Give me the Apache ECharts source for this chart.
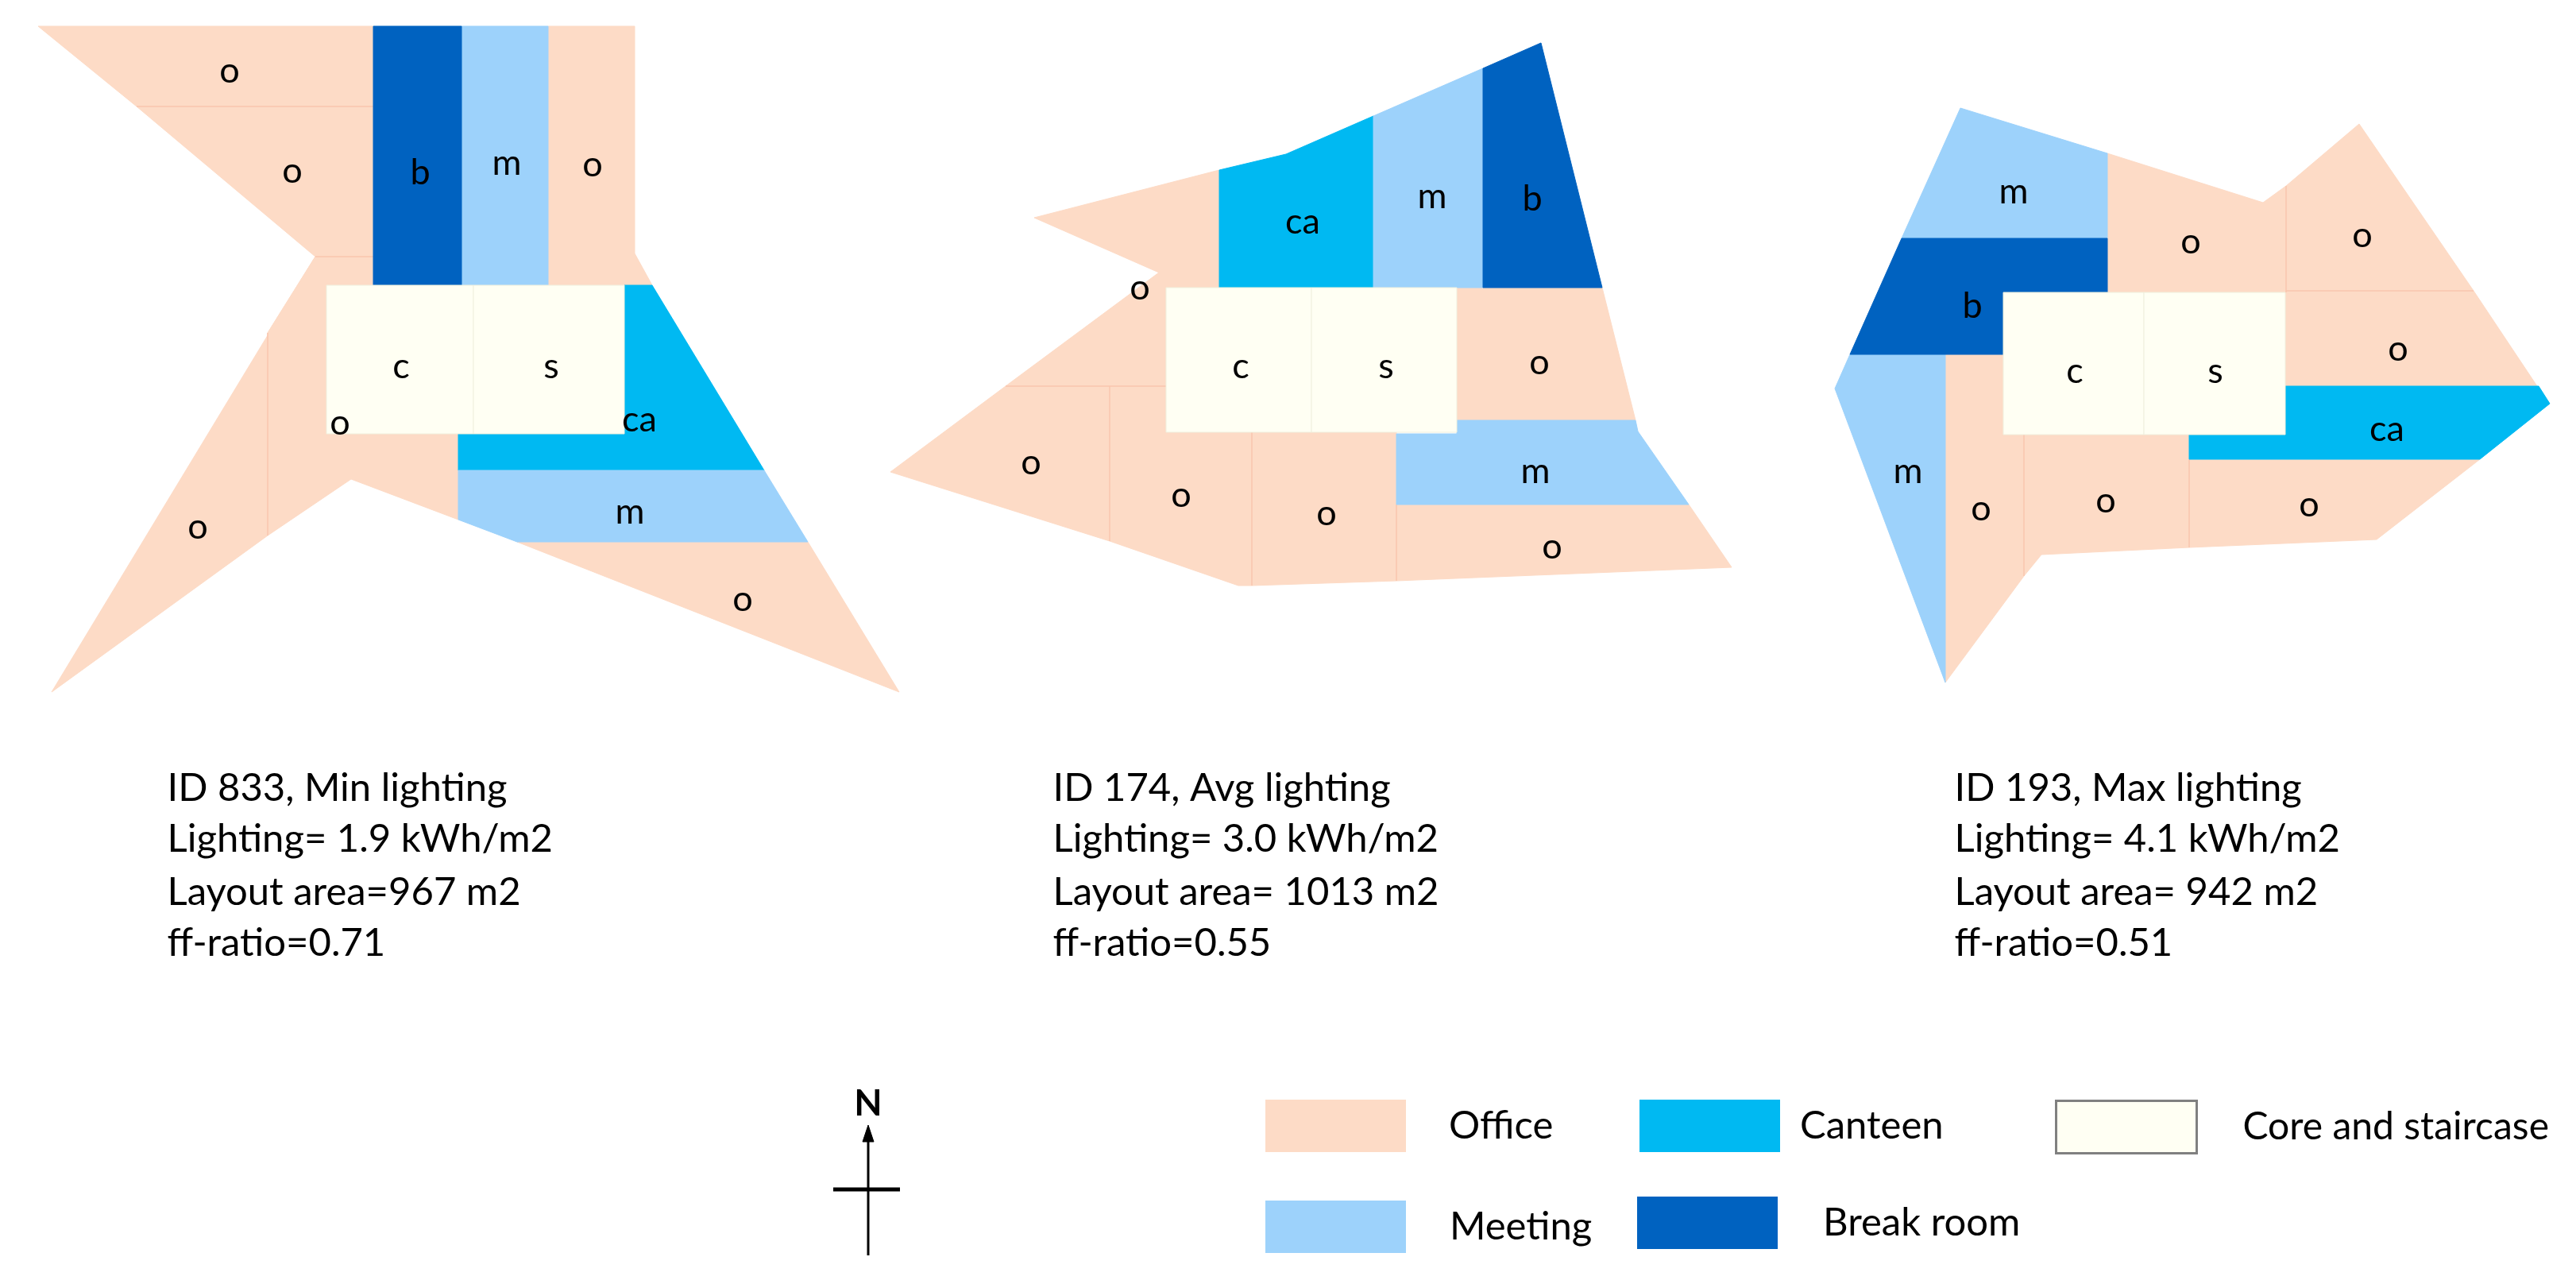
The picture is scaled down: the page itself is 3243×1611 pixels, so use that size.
<!DOCTYPE html>
<html><head><meta charset="utf-8">
<style>html,body{margin:0;padding:0;background:#fff}#c{width:3243px;height:1611px}</style>
<script src="https://cdn.jsdelivr.net/npm/echarts@6/dist/echarts.min.js"></script>
</head><body><div id="c"></div>
<script>
const officeRooms = [
  [[48,33],[470,33],[470,134],[172,134]],
  [[172,134],[470,134],[470,323],[397,323]],
  [[690,33],[799,33],[799,319],[821,359],[690,359]],
  [[397,323],[337,419],[337,674],[65,871]],
  [[397,323],[470,323],[470,359],[411,359],[411,546],[577,546],[577,654],[442,603],[337,674],[337,419]],
  [[651,682],[1017,682],[1132,871]],
  [[1302,274],[1535,214],[1535,362],[1468,362],[1468,486],[1266,486],[1459,343]],
  [[1834,362],[2017,362],[2059,529],[1834,529]],
  [[1758,635],[2126,635],[2180,714],[1758,731]],
  [[1576,544],[1758,544],[1758,731],[1576,737]],
  [[1397,486],[1468,486],[1468,544],[1576,544],[1576,737],[1559,737],[1397,681]],
  [[1266,486],[1397,486],[1397,681],[1121,594]],
  [[2449,446],[2522,446],[2522,546],[2548,546],[2548,725],[2449,859]],
  [[2548,546],[2756,546],[2756,689],[2570,698],[2548,725]],
  [[2756,578],[3122,578],[2992,679],[2756,689]],
  [[2877,366],[3114,366],[3194,486],[2877,486]],
  [[2653,193],[2849,255],[2878,234],[2878,368],[2653,368]],
  [[2878,234],[2970,156],[3114,366],[2878,366]]
];
const officeDividers = [
  [[172,134],[470,134]],[[397,323],[470,323]],[[337,419],[337,674]],
  [[1266,486],[1468,486]],[[1397,486],[1397,681]],[[1576,544],[1576,737]],[[1758,635],[1758,731]],
  [[2548,546],[2548,725]],[[2756,578],[2756,689]],[[2878,234],[2878,368]],[[2878,366],[3114,366]]
];
const canteenRooms = [
  [[786,359],[821,359],[962,592],[577,592],[577,546],[786,546]],
  [[1535,214],[1619,194],[1729,146],[1729,362],[1535,362]],
  [[2756,546],[2877,546],[2877,486],[3196,486],[3210,508],[3122,578],[2756,578]]
];
const meetingRooms = [
  [[581,33],[690,33],[690,359],[581,359]],
  [[577,592],[962,592],[1017,682],[651,682],[577,654]],
  [[1729,146],[1867,86],[1867,362],[1729,362]],
  [[1834,529],[2059,529],[2062,543],[2126,635],[1758,635],[1758,546],[1834,546]],
  [[2468,136],[2653,193],[2653,300],[2394,300]],
  [[2329,446],[2449,446],[2449,859],[2310,489]]
];
const breakRooms = [
  [[470,33],[581,33],[581,359],[470,359]],
  [[1867,86],[1940,54],[2017,362],[1867,362]],
  [[2394,300],[2653,300],[2653,368],[2522,368],[2522,446],[2329,446]]
];
const coreRooms = [
  [[411,359],[596,359],[596,546],[411,546]],
  [[596,359],[786,359],[786,546],[596,546]],
  [[1468,362],[1651,362],[1651,544],[1468,544]],
  [[1651,362],[1834,362],[1834,544],[1651,544]],
  [[2522,368],[2699,368],[2699,547],[2522,547]],
  [[2699,368],[2877,368],[2877,547],[2699,547]]
];
const roomLabels = [
  [289,89,'o'],[368,215,'o'],[529,217,'b'],[638,205,'m'],[746,207,'o'],[505,461,'c'],[694,461,'s'],
  [428,532,'o'],[805,528,'ca'],[793,644,'m'],[249,663,'o'],[935,754,'o'],
  [1435,362,'o'],[1640,279,'ca'],[1803,247,'m'],[1929,250,'b'],[1562,461,'c'],[1745,461,'s'],
  [1938,456,'o'],[1933,593,'m'],[1298,582,'o'],[1487,623,'o'],[1670,646,'o'],[1954,688,'o'],
  [2535,241,'m'],[2758,304,'o'],[2974,296,'o'],[2483,385,'b'],[2612,467,'c'],[2789,467,'s'],
  [3019,439,'o'],[3005,540,'ca'],[2402,593,'m'],[2494,640,'o'],[2651,630,'o'],[2907,635,'o']
];
const captionLines = [
  [210,992,'ID 833, Min lighting'],[210,1056,'Lighting= 1.9 kWh/m2'],[210,1123,'Layout area=967 m2'],[210,1187,'ff-ratio=0.71'],
  [1325,992,'ID 174, Avg lighting'],[1325,1056,'Lighting= 3.0 kWh/m2'],[1325,1123,'Layout area= 1013 m2'],[1325,1187,'ff-ratio=0.55'],
  [2460,992,'ID 193, Max lighting'],[2460,1056,'Lighting= 4.1 kWh/m2'],[2460,1123,'Layout area= 942 m2'],[2460,1187,'ff-ratio=0.51']
];
const northShaft = [[1093,1432],[1093,1580]];
const northBar = [[1049,1497],[1133,1497]];
const northHead = [[[1093,1416],[1100,1437],[1086,1437]]];
const northLabel = [[1093,1389,'N']];
const FONT = 'Lato';
const TEXT = '#000';

function rooms(name, polys, color, stroke, lw) {
  return {
    type: 'custom', name: name, coordinateSystem: 'cartesian2d', silent: true, clip: false,
    itemStyle: { color: color },
    data: polys.map((p, i) => [i]),
    encode: { x: 0 },
    renderItem: function (params, api) {
      const pts = polys[params.dataIndex].map(q => api.coord(q));
      return { type: 'polygon', shape: { points: pts }, style: { fill: color, stroke: stroke, lineWidth: lw } };
    }
  };
}
function dividers(segments, color, lw) {
  return {
    type: 'custom', coordinateSystem: 'cartesian2d', silent: true, clip: false,
    data: segments.map((s, i) => [i]),
    encode: { x: 0 },
    renderItem: function (params, api) {
      const s = segments[params.dataIndex], a = api.coord(s[0]), b = api.coord(s[1]);
      return { type: 'line', shape: { x1: a[0], y1: a[1], x2: b[0], y2: b[1] }, style: { stroke: color, lineWidth: lw } };
    }
  };
}
function labels(data, size, weight, pos) {
  return {
    type: 'scatter', silent: true, symbolSize: 1, itemStyle: { color: 'transparent', opacity: 1 }, data: data, clip: false,
    label: { show: true, position: pos, distance: 0, color: TEXT, fontFamily: FONT, fontSize: size, fontWeight: weight,
      formatter: p => p.value[2] }
  };
}
function rule(data, w) {
  return { type: 'line', silent: true, data: data, symbol: 'none', clip: false, lineStyle: { color: '#000', width: w } };
}
function leg(name, left, top, pad, size, itemStyle) {
  return { data: [name], left: left, top: top, orient: 'horizontal', padding: 0, selectedMode: false, icon: 'rect',
    itemWidth: 177, itemHeight: 66, itemStyle: itemStyle || { borderWidth: 0 },
    textStyle: { fontFamily: FONT, fontSize: size, color: TEXT, padding: [0, 0, 0, pad] } };
}
const chart = echarts.init(document.getElementById('c'), null, { renderer: 'canvas' });
chart.setOption({
  animation: false, backgroundColor: '#fff', tooltip: { show: false },
  grid: { left: 0, right: 0, top: 0, bottom: 0 },
  xAxis: { type: 'value', min: 0, max: 3243, show: false },
  yAxis: { type: 'value', min: 0, max: 1611, inverse: true, show: false },
  legend: [
    leg('Office', 1593, 1384, 49, 49),
    leg('Canteen', 2064, 1384, 20, 49),
    leg('Core and staircase', 2587, 1384, 53, 48, { borderColor: '#808080', borderWidth: 3 }),
    leg('Meeting', 1593, 1511, 50, 49),
    leg('Break room', 2061, 1506, 52, 49)
  ],
  series: [
    rooms('Office', officeRooms, '#FDDBC6', '#FDDBC6', 1),
    dividers(officeDividers, '#F8C6AE', 1.5),
    rooms('Canteen', canteenRooms, '#00B9F2', '#00B9F2', 1),
    rooms('Meeting', meetingRooms, '#9DD2FB', '#9DD2FB', 1),
    rooms('Break room', breakRooms, '#0062C0', '#0062C0', 1),
    rooms('Core and staircase', coreRooms, '#FFFFF3', '#F0F0DE', 1),
    labels(roomLabels, 45, 'normal', 'inside'),
    labels(captionLines, 49, 'normal', 'right'),
    rule(northShaft, 3), rule(northBar, 5),
    rooms('North arrow', northHead, '#000', '#000', 1),
    labels(northLabel, 46, 'bold', 'inside')
  ]
});
</script></body></html>
